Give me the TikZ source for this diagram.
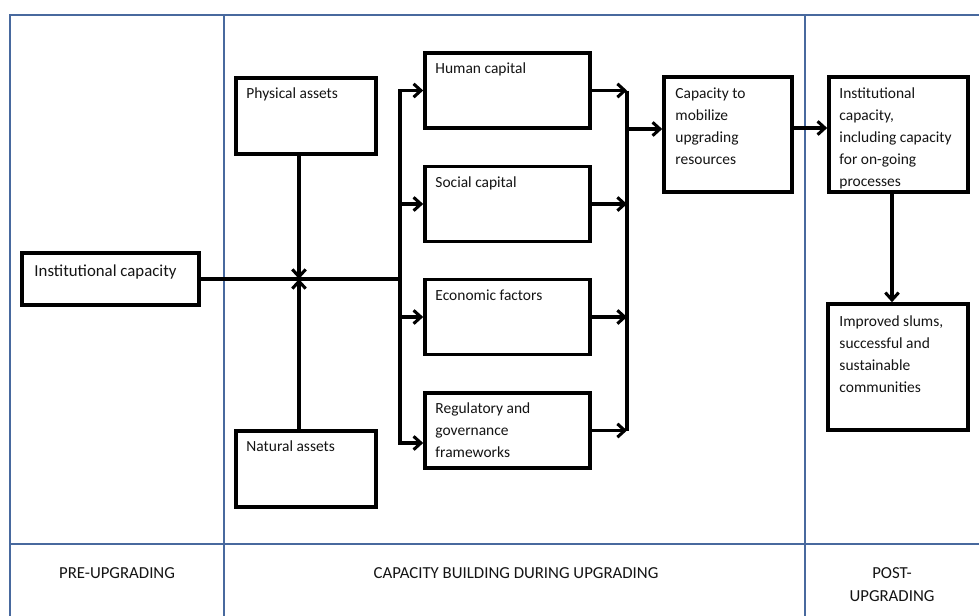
\documentclass[tikz,border=0pt]{standalone}
\usepackage{fontspec}
\setmainfont{Carlito}
\usetikzlibrary{arrows.meta,calc}
\definecolor{framecol}{RGB}{72,105,158}
\definecolor{inkcol}{RGB}{20,20,20}
\newcommand{\boxtext}[2]{\parbox[t]{#1}{\raggedright #2}}
\begin{document}
\begin{tikzpicture}[x=0.75pt,y=-0.75pt,
  font=\fontsize{11.6}{16.5}\selectfont,
  frame/.style={draw=framecol,line width=1.8pt},
  box/.style={draw=black,line width=2.7pt,fill=white,inner sep=0pt},
  txt/.style={inner sep=0pt,anchor=base west,text=inkcol},
  lbl/.style={inner sep=0pt,text=inkcol,align=center,font=\fontsize{12.6}{17.25}\selectfont},
  link/.style={draw=black,line width=2.3pt},
  arr/.style={link,-{Straight Barb[length=5.5pt,width=10pt]}}]
\useasboundingbox (0,0) rectangle (979,615);
\fill[white] (0,0) rectangle (979,615);
\clip (0,0) rectangle (979,615);

% phase table
\draw[frame] (10,15) rectangle (995,640);
\draw[frame] (224,15) -- (224,640);
\draw[frame] (805,15) -- (805,640);
\draw[frame] (10,544) -- (995,544);
\node[lbl] (pre) at (117,573) {PRE-UPGRADING};
\node[lbl] (during) at (516,573) {CAPACITY BUILDING DURING UPGRADING};
\node[lbl] (post) at (892,585) {POST-\\UPGRADING};

% boxes
\node[box,minimum width=132.75pt,minimum height=39pt] (inst) at (110.5,279) {};
\node[box,minimum width=105pt,minimum height=57pt] (phys) at (306,116) {};
\node[box,minimum width=105pt,minimum height=57pt] (nat) at (306,469) {};
\node[box,minimum width=123.75pt,minimum height=56.25pt] (hum) at (507.5,90.5) {};
\node[box,minimum width=123.75pt,minimum height=56.25pt] (soc) at (507.5,204) {};
\node[box,minimum width=123.75pt,minimum height=56.25pt] (eco) at (507.5,317) {};
\node[box,minimum width=123.75pt,minimum height=56.25pt] (reg) at (507.5,430.5) {};
\node[box,minimum width=96pt,minimum height=86.25pt] (cap) at (728,134.5) {};
\node[box,minimum width=104.25pt,minimum height=86.25pt] (icap) at (898.5,134.5) {};
\node[box,minimum width=105pt,minimum height=94.5pt] (impr) at (898,367) {};

% box texts
\node[txt,font=\fontsize{12.6}{16.5}\selectfont] (instt) at ($(inst.north west)+(14,25)$) {Institutional capacity};
\node[txt] (physt) at ($(phys.north west)+(12,22.5)$) {Physical assets};
\node[txt] (natt) at ($(nat.north west)+(12,22.5)$) {Natural assets};
\node[txt] (humt) at ($(hum.north west)+(12,22.5)$) {Human capital};
\node[txt] (soct) at ($(soc.north west)+(12,22.5)$) {Social capital};
\node[txt] (ecot) at ($(eco.north west)+(12,22.5)$) {Economic factors};
\node[txt] (regt) at ($(reg.north west)+(12,22.5)$) {\boxtext{115pt}{Regulatory and\\governance\\frameworks}};
\node[txt] (capt) at ($(cap.north west)+(13,23)$) {\boxtext{85pt}{Capacity to\\mobilize\\upgrading\\resources}};
\node[txt] (icapt) at ($(icap.north west)+(12,23)$) {\boxtext{100pt}{Institutional\\capacity,\\including capacity\\for on-going\\processes}};
\node[txt] (imprt) at ($(impr.north west)+(13,24)$) {\boxtext{95pt}{Improved slums,\\successful and\\sustainable\\communities}};

% junction points
\coordinate (junc) at (299,279);
\coordinate (split) at (400,279);
\coordinate (merge) at (627,129);
\coordinate (hand) at (792,128);

% assets into the institutional line
\draw[link] (inst.east) -- (split);
\draw[arr] (phys.south -| junc) -- (junc);
\draw[arr] (nat.north -| junc) -- (junc);

% split to the four factors
\draw[arr] (split) |- (hum.west);
\draw[arr] (split) |- (soc.west);
\draw[arr] (split) |- (eco.west);
\draw[arr] (split) |- ($(reg.west)+(0,12.5)$);

% factors merge into mobilizing capacity
\draw[arr] (hum.east) -- (hum.east -| merge);
\draw[arr] (soc.east) -- (soc.east -| merge);
\draw[arr] (eco.east) -- (eco.east -| merge);
\draw[arr] (reg.east) -- (reg.east -| merge);
\draw[link] (hum.east -| merge) -- (reg.east -| merge);
\draw[arr] (merge) -- (cap.west |- merge);

% post-upgrading
\draw[arr] (cap.east |- hand) -- (icap.west |- hand);
\draw[arr] ($(icap.south)+(-6.5,0)$) -- ($(impr.north)+(-6,0)$);
\end{tikzpicture}
\end{document}
